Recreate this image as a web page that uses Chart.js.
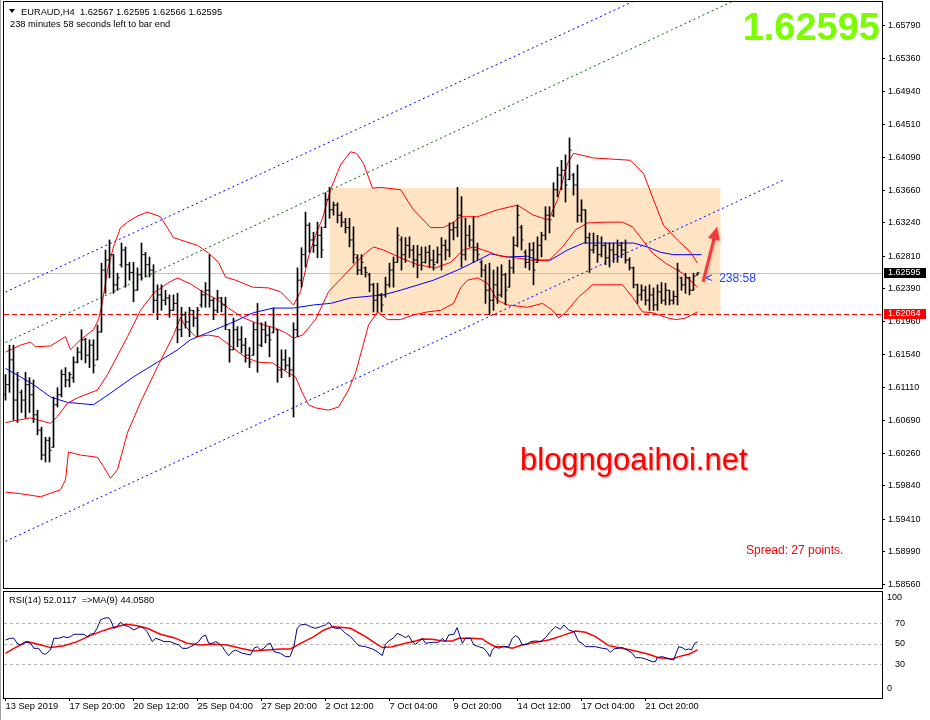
<!DOCTYPE html>
<html>
<head>
<meta charset="utf-8">
<script src="https://cdn.jsdelivr.net/npm/chart.js@4.4.0/dist/chart.umd.min.js"></script>
<style>
  html, body { margin: 0; padding: 0; background: #fff; }
  #wrap { position: relative; width: 930px; height: 720px; overflow: hidden; }
  #mainChart { position: absolute; left: 0; top: 0; }
  #rsiChart { position: absolute; left: 0; top: 590px; }
  #edge { position: absolute; left: 0; top: 0; width: 1px; height: 720px; background: #a0a0a0; }
</style>
</head>
<body>
<div id="wrap">
  <canvas id="mainChart" width="930" height="590"></canvas>
  <canvas id="rsiChart" width="930" height="130"></canvas>
  <div id="edge"></div>
</div>
<script>
// EURAUD H4 bars (bar 0 = 13 Sep 2019)
const barOpen = [1.6102,1.6115,1.6147,1.6095,1.6105,1.6095,1.6115,1.6102,1.6076,1.6056,1.6024,1.6043,1.6034,1.6089,1.6102,1.6128,1.6121,1.6124,1.6144,1.6157,
  1.6173,1.6153,1.6166,1.6147,1.6183,1.6263,1.6276,1.6283,1.6244,1.6270,1.6289,1.6270,1.6260,1.6237,1.6257,1.6283,1.6270,1.6263,1.6224,1.6231,
  1.6224,1.6227,1.6211,1.6220,1.6186,1.6205,1.6196,1.6211,1.6201,1.6218,1.6231,1.6237,1.6224,1.6211,1.6227,1.6218,1.6186,1.6160,1.6186,1.6173,
  1.6166,1.6153,1.6153,1.6186,1.6166,1.6186,1.6179,1.6182,1.6186,1.6134,1.6147,1.6140,1.6134,1.6186,1.6250,1.6283,1.6321,1.6302,1.6295,1.6308,
  1.6318,1.6354,1.6341,1.6347,1.6334,1.6325,1.6318,1.6302,1.6279,1.6263,1.6266,1.6257,1.6244,1.6224,1.6231,1.6231,1.6244,1.6263,1.6273,1.6302,
  1.6283,1.6295,1.6289,1.6276,1.6283,1.6273,1.6286,1.6276,1.6273,1.6283,1.6295,1.6289,1.6315,1.6318,1.6334,1.6283,1.6308,1.6302,1.6289,1.6273,
  1.6263,1.6237,1.6224,1.6244,1.6231,1.6257,1.6241,1.6266,1.6295,1.6318,1.6286,1.6273,1.6289,1.6273,1.6295,1.6308,1.6334,1.6334,1.6367,1.6386,
  1.6392,1.6380,1.6386,1.6373,1.6334,1.6341,1.6305,1.6289,1.6295,1.6283,1.6295,1.6279,1.6289,1.6283,1.6295,1.6289,1.6276,1.6266,1.6244,1.6231,
  1.6237,1.6224,1.6231,1.6218,1.6235,1.6224,1.6237,1.6224,1.6229,1.6253,1.6244,1.6253,1.6237,1.62567];
const barHigh = [1.6128,1.6166,1.6166,1.6131,1.6108,1.6131,1.6124,1.6121,1.6082,1.6060,1.6047,1.6047,1.6099,1.6111,1.6134,1.6137,1.6131,1.6151,1.6163,1.6186,
  1.6175,1.6173,1.6173,1.6192,1.6272,1.6289,1.6302,1.6283,1.6259,1.6298,1.6293,1.6273,1.6273,1.6266,1.6298,1.6286,1.6280,1.6270,1.6244,1.6244,
  1.6237,1.6231,1.6231,1.6233,1.6215,1.6209,1.6215,1.6211,1.6215,1.6237,1.6247,1.6283,1.6227,1.6237,1.6228,1.6228,1.6186,1.6201,1.6190,1.6190,
  1.6175,1.6163,1.6195,1.6220,1.6195,1.6196,1.6190,1.6214,1.6186,1.6160,1.6160,1.6150,1.6195,1.6266,1.6292,1.6338,1.6324,1.6312,1.6325,1.6319,
  1.6363,1.6370,1.6351,1.6350,1.6338,1.6330,1.6330,1.6319,1.6283,1.6283,1.6267,1.6259,1.6246,1.6246,1.6233,1.6254,1.6272,1.6280,1.6318,1.6306,
  1.6305,1.6306,1.6295,1.6295,1.6293,1.6293,1.6295,1.6289,1.6293,1.6305,1.6302,1.6324,1.6325,1.6370,1.6358,1.6330,1.6321,1.6332,1.6298,1.6276,
  1.6270,1.6272,1.6263,1.6267,1.6270,1.6259,1.6276,1.6306,1.6347,1.6321,1.6289,1.6298,1.6299,1.6306,1.6312,1.6345,1.6345,1.6376,1.6396,1.6405,
  1.6412,1.6434,1.6388,1.6399,1.6354,1.6341,1.6311,1.6311,1.6308,1.6306,1.6298,1.6298,1.6298,1.6302,1.6299,1.6302,1.6279,1.6267,1.6245,1.6244,
  1.6242,1.6244,1.6240,1.6244,1.6247,1.6246,1.6237,1.6236,1.6272,1.6254,1.6259,1.6254,1.6259,1.62595];
const barLow = [1.6095,1.6105,1.6069,1.6066,1.6079,1.6072,1.6079,1.6066,1.6050,1.6018,1.6015,1.6015,1.6034,1.6086,1.6099,1.6112,1.6112,1.6118,1.6143,1.6147,
  1.6143,1.6137,1.6130,1.6147,1.6183,1.6233,1.6253,1.6233,1.6237,1.6267,1.6241,1.6250,1.6222,1.6237,1.6250,1.6254,1.6254,1.6208,1.6199,1.6211,
  1.6218,1.6202,1.6211,1.6169,1.6177,1.6188,1.6177,1.6190,1.6177,1.6215,1.6215,1.6215,1.6199,1.6208,1.6209,1.6186,1.6144,1.6160,1.6164,1.6156,
  1.6144,1.6137,1.6153,1.6131,1.6164,1.6169,1.6151,1.6182,1.6118,1.6124,1.6134,1.6125,1.6073,1.6177,1.6241,1.6267,1.6286,1.6286,1.6279,1.6279,
  1.6318,1.6330,1.6334,1.6324,1.6319,1.6311,1.6293,1.6272,1.6257,1.6257,1.6254,1.6235,1.6209,1.6209,1.6209,1.6228,1.6241,1.6241,1.6273,1.6263,
  1.6273,1.6279,1.6267,1.6253,1.6263,1.6272,1.6266,1.6263,1.6272,1.6263,1.6276,1.6280,1.6302,1.6306,1.6267,1.6276,1.6293,1.6273,1.6276,1.6254,
  1.6220,1.6205,1.6211,1.6220,1.6228,1.6218,1.6241,1.6259,1.6293,1.6289,1.6266,1.6263,1.6244,1.6273,1.6280,1.6302,1.6311,1.6332,1.6358,1.6367,
  1.6351,1.6380,1.6360,1.6325,1.6325,1.6298,1.6260,1.6285,1.6273,1.6280,1.6270,1.6267,1.6273,1.6273,1.6279,1.6272,1.6263,1.6240,1.6220,1.6224,
  1.6218,1.6211,1.6211,1.6211,1.6220,1.6218,1.6218,1.6219,1.6218,1.6237,1.6233,1.6231,1.6237,1.62566];
const barClose = [1.6115,1.6147,1.6095,1.6121,1.6095,1.6115,1.6102,1.6076,1.6056,1.6024,1.6043,1.6030,1.6089,1.6102,1.6128,1.6121,1.6128,1.6144,1.6157,1.6173,
  1.6153,1.6166,1.6140,1.6183,1.6263,1.6276,1.6283,1.6244,1.6253,1.6289,1.6270,1.6260,1.6237,1.6257,1.6283,1.6270,1.6263,1.6224,1.6231,1.6224,
  1.6227,1.6211,1.6220,1.6186,1.6205,1.6196,1.6211,1.6201,1.6211,1.6231,1.6237,1.6224,1.6211,1.6227,1.6218,1.6192,1.6160,1.6186,1.6173,1.6166,
  1.6153,1.6144,1.6186,1.6166,1.6186,1.6179,1.6173,1.6205,1.6134,1.6147,1.6140,1.6134,1.6186,1.6250,1.6283,1.6321,1.6302,1.6295,1.6308,1.6289,
  1.6354,1.6341,1.6347,1.6334,1.6325,1.6318,1.6302,1.6283,1.6263,1.6273,1.6260,1.6244,1.6224,1.6231,1.6218,1.6244,1.6263,1.6273,1.6308,1.6283,
  1.6295,1.6289,1.6276,1.6283,1.6273,1.6286,1.6276,1.6270,1.6283,1.6295,1.6289,1.6315,1.6318,1.6334,1.6283,1.6308,1.6302,1.6289,1.6283,1.6263,
  1.6237,1.6224,1.6244,1.6231,1.6257,1.6237,1.6266,1.6295,1.6334,1.6302,1.6273,1.6289,1.6263,1.6295,1.6308,1.6334,1.6328,1.6367,1.6386,1.6392,
  1.6373,1.6418,1.6373,1.6334,1.6341,1.6305,1.6289,1.6295,1.6283,1.6295,1.6279,1.6289,1.6283,1.6295,1.6289,1.6276,1.6266,1.6244,1.6231,1.6237,
  1.6224,1.6231,1.6218,1.6235,1.6224,1.6237,1.6224,1.6229,1.6263,1.6244,1.6253,1.6237,1.6255,1.62595];

// Bollinger bands (20) sampled along the bars: [bar index, price]
const bbUpper = [[0,1.6157],[3.75,1.6166],[6.25,1.6170],[7.5,1.6164],[11.25,1.6165],[15,1.6177],[16.25,1.6160],[18.75,1.6173],[22,1.6186],[23.25,1.6199],
  [24.25,1.6222],[25.5,1.6263],[27,1.6293],[28.75,1.6318],[30.5,1.6325],[33,1.6333],[35.5,1.6338],[38.75,1.6332],[42,1.6305],[43.75,1.6302],
  [48,1.6295],[50.75,1.6285],[53.25,1.6273],[55,1.6254],[57.5,1.6250],[61.75,1.6241],[65.75,1.6240],[68.75,1.6235],[72,1.6218],[73.75,1.6235],
  [75.75,1.6280],[77.5,1.6308],[79.25,1.6330],[81.25,1.6367],[83.75,1.6399],[86.25,1.6416],[87.75,1.6414],[89.5,1.6401],[91.75,1.6369],[93.75,1.6370],
  [98.75,1.6367],[102,1.6341],[106.25,1.6318],[109.5,1.6318],[112,1.6325],[113.75,1.6332],[118,1.6332],[123,1.6341],[128,1.6347],[132,1.6334],
  [135.75,1.6328],[138,1.6354],[140.5,1.6401],[142,1.6414],[147,1.6408],[156.25,1.6405],[159.5,1.6388],[162,1.6354],[164.5,1.6321],[168,1.6302],
  [171.25,1.6286],[173,1.6272]];
const bbMiddle = [[0,1.6066],[6.25,1.6072],[11.25,1.6065],[13,1.6074],[15.5,1.6091],[18,1.6098],[23,1.6108],[25.5,1.6128],[30.5,1.6177],[33.75,1.6211],
  [37,1.6233],[40.5,1.6246],[43,1.6253],[46.25,1.6245],[50,1.6233],[53.25,1.6224],[55.75,1.6214],[59.25,1.6202],[62.5,1.6195],[67.5,1.6188],
  [70,1.6182],[72,1.6175],[74.25,1.6179],[77.5,1.6199],[80.75,1.6235],[84.25,1.6254],[87.5,1.6272],[90,1.6285],[92,1.6293],[94.5,1.6289],
  [98.75,1.6279],[103,1.6270],[107.5,1.6266],[111.25,1.6273],[114.5,1.6289],[117,1.6293],[119.5,1.6289],[123.75,1.6281],[127.5,1.6279],[131.25,1.6276],
  [135.75,1.6275],[139.25,1.6293],[142.5,1.6315],[145.5,1.6324],[150,1.6325],[154.25,1.6325],[156.75,1.6319],[159.25,1.6302],[161.75,1.6285],[165,1.6272],
  [169.25,1.6259],[173,1.6241]];
const bbLower = [[0,1.5976],[3.75,1.5974],[8.75,1.5970],[13.75,1.5979],[15,1.5992],[15.75,1.6028],[18.75,1.6024],[23,1.6021],[24.5,1.6009],[26.25,1.5994],
  [28,1.6005],[30.5,1.6053],[33.75,1.6092],[38,1.6138],[42,1.6179],[43.75,1.6202],[45,1.6190],[47.5,1.6177],[50.75,1.6179],[53.25,1.6177],
  [56.75,1.6163],[60,1.6150],[63.25,1.6144],[66.75,1.6143],[70.75,1.6130],[72.5,1.6125],[74.25,1.6104],[75.75,1.6089],[77.5,1.6085],[80.75,1.6082],
  [83.25,1.6086],[85.75,1.6108],[87.5,1.6130],[89.25,1.6163],[90.75,1.6192],[93,1.6209],[95.5,1.6199],[98.75,1.6199],[102,1.6205],[105.5,1.6209],
  [108.75,1.6211],[112,1.6220],[113.75,1.6240],[115.5,1.6250],[118,1.6253],[120.5,1.6246],[123,1.6224],[125.5,1.6218],[130.5,1.6215],[134.25,1.6220],
  [136.75,1.6211],[138.25,1.6201],[140,1.6208],[143.25,1.6228],[146.75,1.6244],[154.25,1.6244],[156.75,1.6228],[159.25,1.6209],[161.75,1.6208],[165,1.6202],
  [167.5,1.6199],[170,1.6201],[173,1.6209]];
// blue moving average
const maLine = [[0,1.6136],[3.75,1.6125],[7,1.6115],[11.25,1.6099],[15.5,1.6092],[22,1.6089],[26.25,1.6104],[32,1.6125],[38,1.6144],[43,1.6160],
  [46.25,1.6173],[50.5,1.6182],[57,1.6196],[62,1.6208],[67,1.6214],[72,1.6214],[77,1.6218],[81.25,1.6220],[86.25,1.6227],[94.5,1.6231],
  [98.75,1.6237],[107,1.6250],[113,1.6263],[117,1.6273],[121.25,1.6284],[125.5,1.6280],[130.5,1.6281],[133,1.6276],[136.25,1.6276],[140.5,1.6289],
  [144.5,1.6298],[148.75,1.6298],[157,1.6298],[160.5,1.6293],[163.75,1.6286],[167,1.6283],[174,1.6283]];

// drawn objects: trend channel, box, arrow
const channelUpper = [[0,1.62347],[175,1.66536]];
const channelMid = [[0,1.61695],[182,1.66111]];
const channelLower = [[0,1.59125],[194.25,1.63789]];
const boxTime = [81, 178.75];
const boxPrice = [1.63692, 1.62064];
const arrowTime = [174.4, 177.9];
const arrowPrice = [1.62480, 1.63191];
const bidPrice = 1.62595;
const supportPrice = 1.62064;

const priceTicks = [1.65790,1.65360,1.64940,1.64510,1.64090,1.63660,1.63240,1.62810,1.62390,1.61960,1.61540,1.61110,1.60690,1.60260,1.59840,1.59410,1.58990,1.58560];
const timeIdx = [0,16,32,48,64,80,96,112,128,144,160];
const timeLabels = ['13 Sep 2019','17 Sep 20:00','20 Sep 12:00','25 Sep 04:00','27 Sep 20:00','2 Oct 12:00','7 Oct 04:00','9 Oct 20:00','14 Oct 12:00','17 Oct 04:00','21 Oct 20:00'];

// RSI(14) and its MA(9): bar index / value
const rsiIdx = [0,1.25,2.1,2.9,3.75,5,6.25,7.1,8.3,9.2,10,11.25,12.1,13.3,14.6,15.4,16.25,17.1,18.3,19.6,
  20.4,21.25,22.1,22.9,23.75,24.6,25.8,26.25,27.1,27.9,28.75,29.6,30.8,32.1,32.9,33.75,34.6,35.4,36.7,37.5,
  38.75,39.6,41.25,42.1,43.3,44.2,45.4,46.25,47.1,48.3,49.2,50,50.8,51.7,52.5,53.3,54.2,55,55.8,56.7,
  57.5,58.3,59.2,60.4,61.25,62.1,62.9,63.75,64.6,65.4,66.25,67.1,68.75,70,71.1,72.1,72.9,73.75,75,76.25,
  77.5,78.75,80,80.8,81.7,82.5,83.75,85,86.25,87.5,88.3,90,91.7,92.9,94.2,95,95.8,97.1,97.9,99.2,
  100,100.8,101.7,102.5,103.3,104.2,105,106.7,108.3,109.2,110,110.8,112.1,112.9,113.5,114.2,115,116.25,117.1,118.3,
  119.6,120.4,121.1,121.7,122.5,123.3,124.2,125.8,126.7,127.5,128.3,129.2,130.4,131.25,132.5,133.75,135,136.25,137.5,138.75,
  139.6,140.8,142.1,143.3,144.2,145,147.5,149.2,150.4,151.25,152.1,154.2,155.4,156.7,157.5,158.75,160,161.7,162.5,162.9,
  164.2,165.4,167.1,167.5,168.3,169.2,170,170.8,171.5,172.3,173];
const rsiVal = [53.7,55.4,55.4,50.5,48.9,52.1,50.5,45.6,45.6,40.7,39.8,44,55.4,55.4,57,56,57,59.3,59.3,59.3,
  57,59.3,60.2,65.1,73.3,74.9,75.5,73.3,65.1,66.7,71,68.4,66.7,63.5,65.1,66.7,65.1,61.9,52.1,55.4,
  53.7,52.1,52.1,50.5,48.9,45.6,45.6,47.2,48.9,52.1,57,58.6,50.5,50.5,52.1,50.5,47.2,42.4,38.5,42.4,
  44,42.4,40.7,39.8,39.1,45.6,47.2,44,45.6,49.5,50.5,42.4,40.7,37.5,37.5,47.2,65.1,68.4,69,66.7,
  65.1,66.7,68.4,71,66.7,65.1,65.1,60.2,57,51.5,48.2,47.2,45,42.4,38.5,49.5,52.8,56,60.2,58,
  56,58,52.1,49.5,52.1,55.4,50.5,51.5,51.5,55.4,52.1,58.6,59.3,65.8,58.6,50.5,55.4,55.4,48.9,47.2,
  45.6,41.7,37.5,44,47.2,45.6,47.2,47.2,55.4,58,56,48.9,49.5,52.1,52.8,52.1,56,61.9,66.7,64.1,
  68.4,63.5,61.9,52.1,50.5,47.2,47.2,45.6,45,41.7,45,46.3,44,40.7,36.5,36.5,35.2,32.6,32.6,36.5,
  37.5,35.9,34.2,39.1,47.2,46.3,44,45,44,50.5,52.0];
const rsiMaIdx = [0,2.1,5.4,7.1,9.6,11.25,14.6,17.9,21.25,23.75,26.25,28.75,30.4,32.9,35.4,38.75,42.1,45.4,48.75,52.1,
  55.4,58.75,62.1,65.4,68.75,71.25,73.75,77.1,79.6,81.7,83.75,86.25,87.5,90,92.5,94.2,96.7,100,102.5,104.2,
  106.7,109.2,111.7,113.3,116.7,119.2,120.8,122.5,125,126.7,129.2,132.5,135.8,139.2,142.5,145,147.5,150.8,154.2,157.5,
  160.8,163.3,166.7,168.3,170.8,173];
const rsiMaVal = [40.7,45.6,52.1,50.5,48.2,46.3,48.2,52.1,58,61.9,65.1,67.7,69,67.7,65.1,59.3,56,50.5,48.9,49.5,
  48.9,45.6,43,44,45,45,50.5,57,63.5,66.7,66.1,65.1,62.5,57,50.5,46.3,47.2,50.5,52.8,54.7,
  54.4,52.8,52.8,55.4,55.4,54.7,50.5,47.2,47.2,45.6,48.9,51.5,53.7,58,62.5,61.2,57,48.2,45.6,43,
  39.8,36.5,35.2,37.5,39.8,44.06];
const rsiLevels = [70, 50, 30];

const FONT = 'Liberation Sans, Arial, sans-serif';
const xMin = -0.375, xMax = 219.125;
const pts = arr => arr.map(p => ({x: p[0], y: p[1]}));
// keep the axes from pushing the plot area in
const noMargins = s => { s.paddingTop = 0; s.paddingBottom = 0; s.paddingLeft = 0; s.paddingRight = 0; };

const mainOverlay = {
    id: 'mainOverlay',
    beforeDatasetsDraw(chart) {
        const {ctx, chartArea: a, scales: {x, y}} = chart;
        ctx.save();
        ctx.beginPath();
        ctx.rect(a.left, a.top, a.right - a.left, a.bottom - a.top);
        ctx.clip();
        // shaded range box
        const bx0 = x.getPixelForValue(boxTime[0]), bx1 = x.getPixelForValue(boxTime[1]);
        const by0 = y.getPixelForValue(boxPrice[0]), by1 = y.getPixelForValue(boxPrice[1]);
        ctx.fillStyle = '#ffe4c4';
        ctx.fillRect(bx0, by0, bx1 - bx0, by1 - by0);
        // bid line
        ctx.lineWidth = 1;
        ctx.strokeStyle = '#c0c0c0';
        const yb = Math.round(y.getPixelForValue(bidPrice)) + 0.5;
        ctx.beginPath(); ctx.moveTo(a.left, yb); ctx.lineTo(a.right, yb); ctx.stroke();
        // support line
        ctx.strokeStyle = '#ff0000';
        ctx.setLineDash([5, 3]);
        const ys = Math.round(y.getPixelForValue(supportPrice)) + 0.5;
        ctx.beginPath(); ctx.moveTo(a.left, ys); ctx.lineTo(a.right, ys); ctx.stroke();
        ctx.restore();
    },
    afterDraw(chart) {
        const {ctx, chartArea: a, scales: {x, y}} = chart;
        ctx.save();
        // frame
        ctx.strokeStyle = '#000';
        ctx.lineWidth = 1;
        ctx.strokeRect(a.left - 0.5, a.top - 0.5, a.right - a.left + 1, a.bottom - a.top + 1);

        // header
        ctx.fillStyle = '#000';
        ctx.beginPath(); ctx.moveTo(9, 9); ctx.lineTo(15, 9); ctx.lineTo(12, 13); ctx.closePath(); ctx.fill();
        ctx.font = '9.3px ' + FONT;
        ctx.textBaseline = 'middle';
        ctx.textAlign = 'left';
        ctx.fillText('EURAUD,H4  1.62567 1.62595 1.62566 1.62595', 21, 12);
        ctx.fillText('238 minutes 58 seconds left to bar end', 10, 24);

        // big price
        ctx.font = 'bold 38px ' + FONT;
        ctx.fillStyle = '#7cfc00';
        ctx.textAlign = 'right';
        ctx.textBaseline = 'alphabetic';
        ctx.fillText('1.62595', 880, 40);

        // watermark
        ctx.font = '31px ' + FONT;
        ctx.textAlign = 'left';
        ctx.shadowColor = 'rgba(120,0,0,0.45)';
        ctx.shadowBlur = 2;
        ctx.shadowOffsetX = 1;
        ctx.shadowOffsetY = 1;
        ctx.fillStyle = '#ff0000';
        ctx.fillText('blogngoaihoi.net', 520, 470);
        ctx.shadowColor = 'transparent';

        // spread
        ctx.font = '12px ' + FONT;
        ctx.fillStyle = '#ff0000';
        ctx.fillText('Spread: 27 points.', 746, 554);

        // countdown next to last bar
        const last = barClose.length - 1;
        ctx.fillStyle = '#2040ff';
        ctx.font = '12px ' + FONT;
        ctx.textBaseline = 'middle';
        ctx.fillText('<  238:58', x.getPixelForValue(last) + 8, y.getPixelForValue(barClose[last]) + 6);

        // arrow
        const tx = x.getPixelForValue(arrowTime[0]), ty = y.getPixelForValue(arrowPrice[0]);
        const hx = x.getPixelForValue(arrowTime[1]), hy = y.getPixelForValue(arrowPrice[1]);
        const ang = Math.atan2(hy - ty, hx - tx);
        ctx.strokeStyle = '#f03c3c';
        ctx.fillStyle = '#f03c3c';
        ctx.lineWidth = 3;
        ctx.shadowColor = 'rgba(0,0,0,0.25)';
        ctx.shadowBlur = 3;
        ctx.beginPath();
        ctx.moveTo(tx, ty);
        ctx.lineTo(hx - 8 * Math.cos(ang), hy - 8 * Math.sin(ang));
        ctx.stroke();
        ctx.beginPath();
        ctx.moveTo(hx, hy);
        ctx.lineTo(hx - 13 * Math.cos(ang) + 6 * Math.sin(ang), hy - 13 * Math.sin(ang) - 6 * Math.cos(ang));
        ctx.lineTo(hx - 13 * Math.cos(ang) - 6 * Math.sin(ang), hy - 13 * Math.sin(ang) + 6 * Math.cos(ang));
        ctx.closePath();
        ctx.fill();
        ctx.shadowColor = 'transparent';

        // price labels on the axis
        const tag = (price, bg) => {
            const py = Math.round(y.getPixelForValue(price));
            ctx.fillStyle = bg;
            ctx.fillRect(a.right + 2, py - 5, 42, 10);
            ctx.fillStyle = '#fff';
            ctx.font = '9px ' + FONT;
            ctx.textAlign = 'left';
            ctx.textBaseline = 'middle';
            ctx.fillText(price.toFixed(5), a.right + 6, py);
        };
        tag(bidPrice, '#000');
        tag(supportPrice, '#ff0000');
        ctx.restore();
    }
};

const lineSet = (data, color, extra) => Object.assign({
    type: 'line', data: pts(data), borderColor: color, borderWidth: 1,
    pointRadius: 0, tension: 0, fill: false, order: 1
}, extra || {});

new Chart(document.getElementById('mainChart'), {
    type: 'bar',
    data: {
        datasets: [
            {
                type: 'bar',
                data: barHigh.map((h, i) => ({x: i, y: [barLow[i], h]})),
                backgroundColor: '#000',
                borderWidth: 0,
                barThickness: 1,
                grouped: false,
                order: 0
            },
            {
                type: 'scatter',
                data: barOpen.map((v, i) => ({x: i - 0.25, y: v})),
                pointStyle: 'line', pointRadius: 1, pointBorderColor: '#000', pointBorderWidth: 1,
                order: 0
            },
            {
                type: 'scatter',
                data: barClose.map((v, i) => ({x: i + 0.25, y: v})),
                pointStyle: 'line', pointRadius: 1, pointBorderColor: '#000', pointBorderWidth: 1,
                order: 0
            },
            lineSet(bbUpper, '#ff0000'),
            lineSet(bbMiddle, '#ff0000'),
            lineSet(bbLower, '#ff0000'),
            lineSet(maLine, '#0000ff'),
            lineSet(channelUpper, '#0000ff', {borderDash: [2, 3], order: 2, clip: 0}),
            lineSet(channelMid, '#006400', {borderDash: [2, 3], order: 2, clip: 0}),
            lineSet(channelLower, '#0000ff', {borderDash: [2, 3], order: 2, clip: 0})
        ]
    },
    options: {
        responsive: false,
        animation: false,
        events: [],
        layout: {autoPadding: false, padding: {left: 4, top: 2, right: 0, bottom: 2}},
        plugins: {legend: {display: false}, tooltip: {enabled: false}},
        scales: {
            x: {type: 'linear', min: xMin, max: xMax, offset: false, display: false},
            y: {
                type: 'linear', position: 'right', min: 1.58521, max: 1.66096,
                afterFit(s) { s.width = 48; noMargins(s); },
                afterBuildTicks(s) { s.ticks = priceTicks.map(v => ({value: v})); },
                ticks: {
                    autoSkip: false, color: '#000', padding: 3,
                    font: {family: FONT, size: 9},
                    callback: v => v.toFixed(5)
                },
                grid: {drawOnChartArea: false, tickLength: 3, color: '#000'},
                border: {display: true, color: '#000'}
            }
        }
    },
    plugins: [mainOverlay]
});

const rsiOverlay = {
    id: 'rsiOverlay',
    beforeDatasetsDraw(chart) {
        const {ctx, chartArea: a, scales: {y}} = chart;
        ctx.save();
        ctx.strokeStyle = '#b4b4b4';
        ctx.lineWidth = 1;
        ctx.setLineDash([3, 3]);
        rsiLevels.forEach(l => {
            const py = Math.round(y.getPixelForValue(l)) + 0.5;
            ctx.beginPath(); ctx.moveTo(a.left, py); ctx.lineTo(a.right, py); ctx.stroke();
        });
        ctx.restore();
    },
    afterDraw(chart) {
        const {ctx, chartArea: a, scales: {y}} = chart;
        ctx.save();
        ctx.strokeStyle = '#000';
        ctx.lineWidth = 1;
        ctx.strokeRect(a.left - 0.5, a.top - 0.5, a.right - a.left + 1, a.bottom - a.top + 1);
        ctx.fillStyle = '#000';
        ctx.font = '9.3px ' + FONT;
        ctx.textBaseline = 'middle';
        ctx.fillText('RSI(14) 52.0117  =>MA(9) 44.0580', 9, 10);
        ctx.font = '9px ' + FONT;
        ctx.fillText('100', a.right + 5, y.getPixelForValue(100) + 5);
        ctx.fillText('0', a.right + 5, y.getPixelForValue(0) - 7);
        ctx.restore();
    }
};

new Chart(document.getElementById('rsiChart'), {
    type: 'line',
    data: {
        datasets: [
            {data: rsiIdx.map((v, i) => ({x: v, y: rsiVal[i]})), borderColor: '#000080', borderWidth: 1, pointRadius: 0, tension: 0},
            {data: rsiMaIdx.map((v, i) => ({x: v, y: rsiMaVal[i]})), borderColor: '#ff0000', borderWidth: 1.5, pointRadius: 0, tension: 0}
        ]
    },
    options: {
        responsive: false,
        animation: false,
        events: [],
        layout: {autoPadding: false, padding: {left: 4, top: 2, right: 0, bottom: 0}},
        plugins: {legend: {display: false}, tooltip: {enabled: false}},
        scales: {
            x: {
                type: 'linear', min: xMin, max: xMax, position: 'bottom',
                afterFit(s) { s.height = 22; noMargins(s); },
                afterBuildTicks(s) { s.ticks = timeIdx.map(v => ({value: v})); },
                ticks: {
                    autoSkip: false, maxRotation: 0, align: 'start', padding: 0, color: '#000',
                    font: {family: FONT, size: 9.3},
                    callback: (v, i) => timeLabels[i]
                },
                grid: {drawOnChartArea: false, tickLength: 3, color: '#000'},
                border: {display: true, color: '#000'}
            },
            y: {
                position: 'right', min: -2.87, max: 100.54,
                afterFit(s) { s.width = 48; noMargins(s); },
                afterBuildTicks(s) { s.ticks = rsiLevels.map(v => ({value: v})); },
                ticks: {autoSkip: false, color: '#000', padding: 5, font: {family: FONT, size: 9}},
                grid: {display: false},
                border: {display: true, color: '#000'}
            }
        }
    },
    plugins: [rsiOverlay]
});
</script>
</body>
</html>
